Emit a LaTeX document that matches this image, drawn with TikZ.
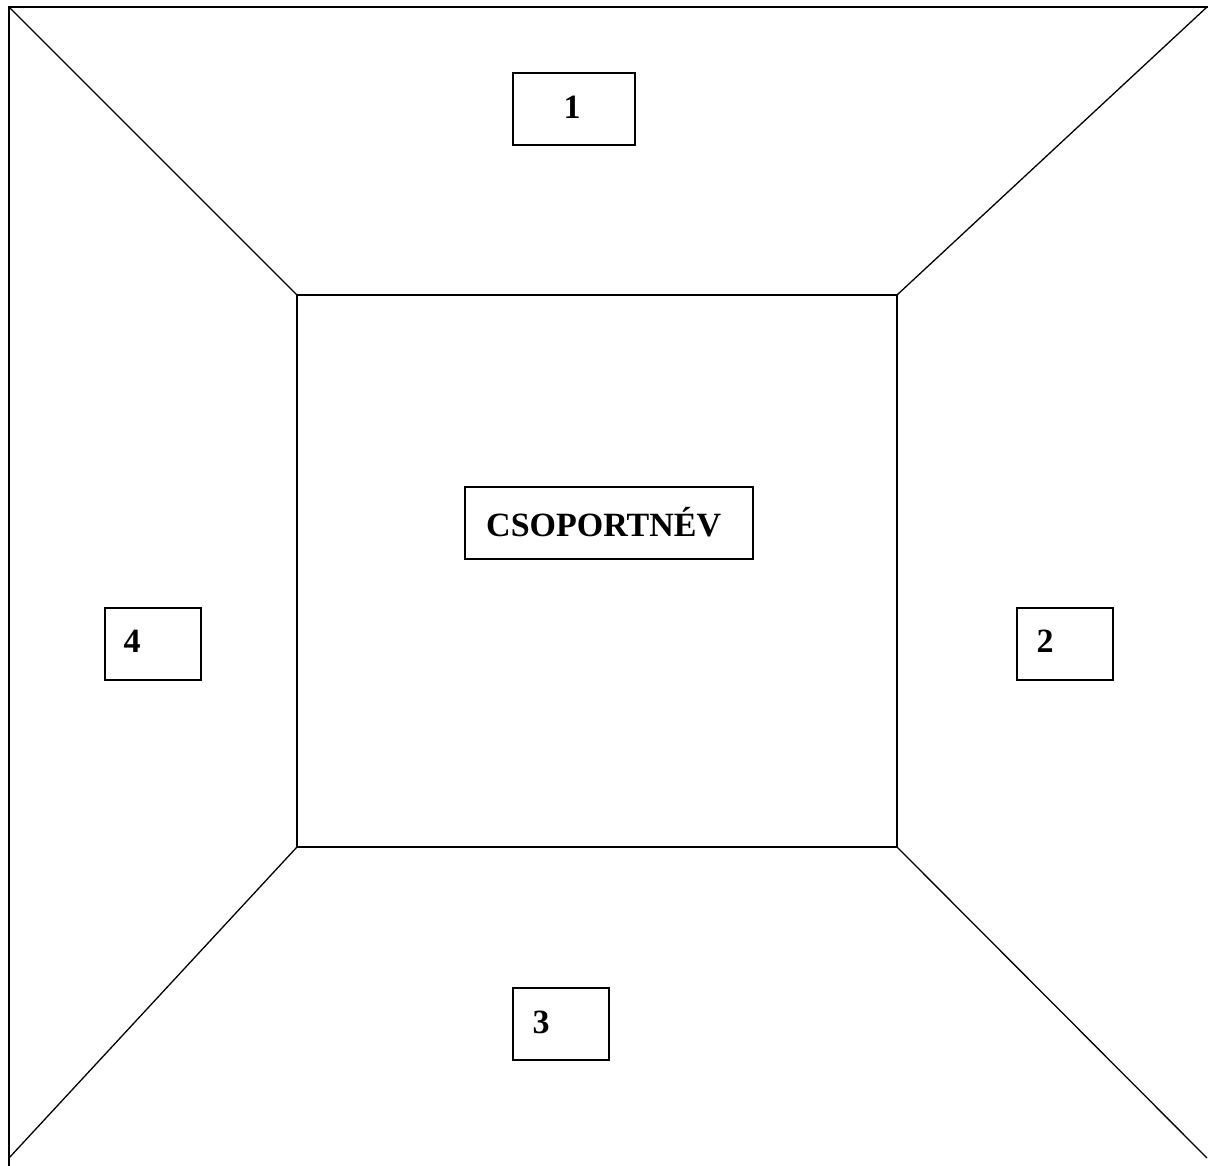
\documentclass[tikz,border=0pt]{standalone}
\usepackage{fontspec}
\setmainfont{Liberation Serif}
\begin{document}
\begin{tikzpicture}[x=1pt,y=-1pt,
  frame/.style={line width=1.8pt},
  edge/.style={line width=1.3pt},
  box/.style={draw,line width=1.3pt,rectangle,inner sep=0pt},
  lbl/.style={font=\fontsize{34}{38}\selectfont\bfseries,inner sep=0pt}]
\useasboundingbox (0,0) rectangle (1208,1166);
% outer frame corners
\coordinate (OTL) at (9,7);
\coordinate (OTR) at (1207,7);
\coordinate (OBL) at (9,1158);
\coordinate (OBR) at (1207,1158);
\coordinate (LB) at (9,1166);
\coordinate (TR) at (1208,7);
% inner square
\coordinate (ITL) at (297,295);
\coordinate (ITR) at (897,295);
\coordinate (IBR) at (897,847);
\coordinate (IBL) at (297,847);
\draw[frame] (LB) -- (OTL) -- (TR);
\draw[edge] (ITL) -- (ITR) -- (IBR) -- (IBL) -- cycle;
\draw[edge] (OTL) -- (ITL);
\draw[edge] (OTR) -- (ITR);
\draw[edge] (OBL) -- (IBL);
\draw[edge] (OBR) -- (IBR);
% boxes
\node[box,minimum width=122pt,minimum height=72pt] (b1) at (574,109) {};
\node[lbl] (t1) at (572,107) {1};
\node[box,minimum width=288pt,minimum height=72pt] (bc) at (609,523) {};
\node[lbl,anchor=west] (tc) at (486,522) {CSOPORTNÉV};
\node[box,minimum width=96pt,minimum height=72pt] (b4) at (153,644) {};
\node[lbl] (t4) at (132,641) {4};
\node[box,minimum width=96pt,minimum height=72pt] (b2) at (1065,644) {};
\node[lbl] (t2) at (1045,641) {2};
\node[box,minimum width=96pt,minimum height=72pt] (b3) at (561,1024) {};
\node[lbl] (t3) at (541,1022) {3};
\end{tikzpicture}
\end{document}
